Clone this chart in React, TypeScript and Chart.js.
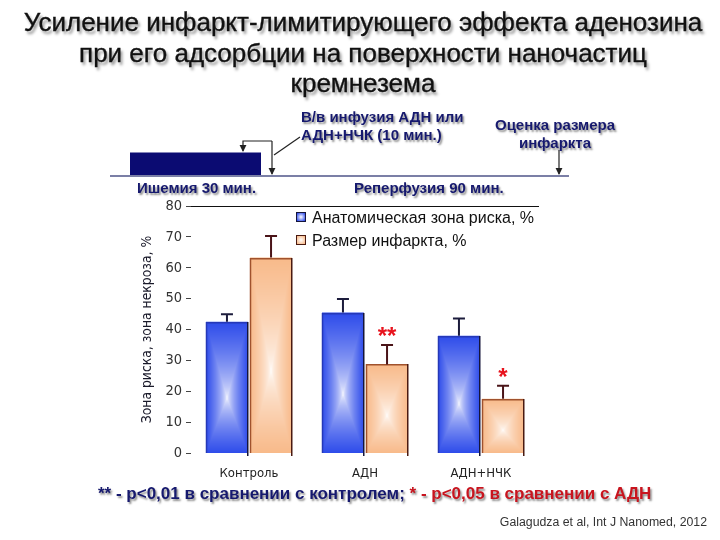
import React, { useEffect, useRef } from "react";
import { Chart, registerables } from "chart.js";

Chart.register(...registerables);

// ---- data ----
const categories = ["Контроль", "АДН", "АДН+НЧК"];
const seriesNames = ["Анатомическая зона риска, %", "Размер инфаркта, %"];
const riskValues = [42.5, 45.5, 38.0];
const riskErrors = [2.4, 4.4, 5.6];
const infarctValues = [63.3, 28.7, 17.6];
const infarctErrors = [7.0, 6.3, 4.2];
const infarctMarks = ["", "**", "*"];
const yMin = 0;
const yMax = 80;
const yStep = 10;
const yTitle = "Зона риска, зона некроза, %";

const NARROW = "'Liberation Sans Narrow', 'Arial Narrow', 'DejaVu Sans Condensed', sans-serif";
const ARIAL = "'Liberation Sans', Arial, sans-serif";

const barStyles = [
  { edge: [46, 76, 234], top: "#2538b8", right: "#15153a", err: "#1c1c3c" },
  { edge: [248, 186, 138], top: "#a0522d", right: "#4a1a10", err: "#4a1418" },
];
const errorSets = [riskErrors, infarctErrors];
const markSets = [["", "", ""], infarctMarks];

const decorPlugin = {
  id: "decor",
  afterDatasetsDraw(chart: any) {
    const ctx = chart.ctx as CanvasRenderingContext2D;
    const yScale = chart.scales.y;
    chart.data.datasets.forEach((ds: any, di: number) => {
      const meta = chart.getDatasetMeta(di);
      const st = barStyles[di];
      meta.data.forEach((bar: any, i: number) => {
        const p = bar.getProps(["x", "y", "base", "width"], true);
        const l = Math.round(p.x - p.width / 2);
        const r = Math.round(p.x + p.width / 2);
        const t = Math.round(p.y);
        const b = Math.round(p.base);
        const w = r - l;
        const h = b - t;
        if (w > 0 && h > 0) {
          const img = ctx.createImageData(w, h);
          const cy = h * 0.58;
          const hw = w / 2;
          for (let py = 0; py < h; py++) {
            const yy = py + 0.5;
            const dy = yy < cy ? (cy - yy) / cy : (yy - cy) / (h - cy);
            for (let px = 0; px < w; px++) {
              const dx = Math.abs(px + 0.5 - hw) / hw;
              const d = Math.min(1, Math.max(dx, dy));
              const s = Math.pow(d, 0.6);
              const k = (py * w + px) * 4;
              img.data[k] = Math.round(255 + (st.edge[0] - 255) * s);
              img.data[k + 1] = Math.round(255 + (st.edge[1] - 255) * s);
              img.data[k + 2] = Math.round(255 + (st.edge[2] - 255) * s);
              img.data[k + 3] = 255;
            }
          }
          ctx.putImageData(img, l, t);
          ctx.save();
          ctx.lineWidth = 1.5;
          ctx.strokeStyle = st.top;
          ctx.beginPath();
          ctx.moveTo(l + 0.5, b);
          ctx.lineTo(l + 0.5, t + 0.75);
          ctx.lineTo(r, t + 0.75);
          ctx.stroke();
          ctx.strokeStyle = st.right;
          ctx.beginPath();
          ctx.moveTo(r - 0.25, t);
          ctx.lineTo(r - 0.25, b + 3);
          ctx.stroke();
          ctx.restore();
        }
        // error bar (upper only)
        const v = ds.data[i];
        const errTop = yScale.getPixelForValue(v + errorSets[di][i]);
        ctx.save();
        ctx.strokeStyle = st.err;
        ctx.lineWidth = 2;
        ctx.beginPath();
        ctx.moveTo(p.x, p.y);
        ctx.lineTo(p.x, errTop);
        ctx.moveTo(p.x - 6, errTop);
        ctx.lineTo(p.x + 6, errTop);
        ctx.stroke();
        const mark = markSets[di][i];
        if (mark) {
          ctx.fillStyle = "#e8141e";
          ctx.font = "bold 24px " + ARIAL;
          ctx.textAlign = "center";
          ctx.textBaseline = "alphabetic";
          ctx.fillText(mark, p.x, errTop - 0.5);
        }
        ctx.restore();
      });
    });
  },
};

const legendSwatch = (di: number): React.CSSProperties => {
  const e = barStyles[di].edge;
  const c = `rgb(${e[0]},${e[1]},${e[2]})`;
  return {
    position: "absolute",
    left: 0,
    top: 6,
    width: 8,
    height: 8,
    border: `1px solid ${barStyles[di].right}`,
    background: `radial-gradient(circle, #ffffff 0%, ${c} 90%)`,
  };
};

const shadow = "1.5px 2px 2px rgba(0,0,0,0.45)";
const navy = "#16196e";

export default function App() {
  const canvasRef = useRef<HTMLCanvasElement | null>(null);

  useEffect(() => {
    const canvas = canvasRef.current;
    if (!canvas) return;
    const chart = new Chart(canvas, {
      type: "bar",
      data: {
        labels: categories,
        datasets: [
          {
            label: seriesNames[0],
            data: riskValues,
            backgroundColor: "rgb(46,76,234)",
            borderWidth: 0,
          },
          {
            label: seriesNames[1],
            data: infarctValues,
            backgroundColor: "rgb(248,186,138)",
            borderWidth: 0,
          },
        ],
      },
      options: {
        responsive: false,
        animation: false,
        events: [],
        layout: { padding: { left: 139, right: 181, top: 206, bottom: 57 } },
        datasets: { bar: { categoryPercentage: 0.76, barPercentage: 0.95 } },
        plugins: {
          legend: { display: false },
          tooltip: { enabled: false },
          title: { display: false },
        },
        scales: {
          x: {
            grid: { display: false, drawTicks: false },
            border: { display: false },
            ticks: {
              color: "#222",
              font: { family: NARROW, size: 13 },
              padding: 13,
              maxRotation: 0,
            },
            afterFit(s: any) {
              s.height = 30;
            },
          },
          y: {
            min: yMin,
            max: yMax,
            ticks: {
              stepSize: yStep,
              color: "#333",
              font: { family: NARROW, size: 14.5 },
              padding: 4,
            },
            grid: {
              color: (c: any) => (c.tick && c.tick.value === yMax ? "#111" : "rgba(0,0,0,0)"),
              tickColor: "#444",
              tickLength: 5,
              lineWidth: 1,
            },
            border: { display: false },
            title: {
              display: true,
              text: yTitle,
              color: "#1a1a2a",
              font: { family: NARROW, size: 13.8 },
              padding: { top: 0, bottom: 0 },
            },
            afterFit(s: any) {
              s.width = 52;
            },
          },
        },
      },
      plugins: [decorPlugin],
    } as any);
    return () => chart.destroy();
  }, []);

  const protoText: React.CSSProperties = {
    position: "absolute",
    font: `bold 15px ${ARIAL}`,
    color: navy,
    textShadow: shadow,
    whiteSpace: "nowrap",
    lineHeight: "18px",
  };

  return (
    <div
      style={{
        position: "absolute",
        left: 0,
        top: 0,
        width: 720,
        height: 540,
        background: "#ffffff",
        overflow: "hidden",
      }}
    >
      <canvas
        ref={canvasRef}
        width={720}
        height={540}
        style={{ position: "absolute", left: 0, top: 0, width: 720, height: 540 }}
      />
      <div
        style={{
          position: "absolute",
          left: 0,
          top: 7,
          width: 726,
          textAlign: "center",
          font: `26px ${ARIAL}`,
          lineHeight: "30.5px",
          color: "#111",
          textShadow: "2px 3px 3px rgba(0,0,0,0.45)",
          WebkitTextStroke: "0.35px #111",
          whiteSpace: "nowrap",
        }}
      >
        Усиление инфаркт-лимитирующего эффекта аденозина
        <br />
        при его адсорбции на поверхности наночастиц
        <br />
        кремнезема
      </div>

      <svg
        width={720}
        height={540}
        style={{ position: "absolute", left: 0, top: 0 }}
      >
        <defs>
          <marker id="ah" viewBox="0 0 8 8" refX="7" refY="4" markerWidth="6" markerHeight="6" orient="auto">
            <path d="M0,0 L8,4 L0,8 z" fill="#222" />
          </marker>
        </defs>
        <line x1={110} y1={176} x2={569} y2={176} stroke="#7b7fa6" strokeWidth={2} />
        <rect x={130} y={152.5} width={131} height={22.5} fill="#0b0b72" />
        <polyline
          points="272,141 243,141 243,151"
          fill="none"
          stroke="#222"
          strokeWidth={1.2}
          markerEnd="url(#ah)"
        />
        <line x1={272} y1={141} x2={272} y2={174} stroke="#222" strokeWidth={1.2} markerEnd="url(#ah)" />
        <line x1={274} y1={155} x2={300} y2={137} stroke="#222" strokeWidth={1.2} />
        <line x1={559} y1={150} x2={559} y2={174} stroke="#222" strokeWidth={1.2} markerEnd="url(#ah)" />
      </svg>

      <div style={{ ...protoText, left: 301, top: 108 }}>
        В/в инфузия АДН или
        <br />
        АДН+НЧК (10 мин.)
      </div>
      <div style={{ ...protoText, left: 490, top: 116, width: 130, textAlign: "center" }}>
        Оценка размера
        <br />
        инфаркта
      </div>
      <div style={{ ...protoText, left: 137, top: 179 }}>Ишемия 30 мин.</div>
      <div style={{ ...protoText, left: 354, top: 179 }}>Реперфузия 90 мин.</div>

      <div style={{ position: "absolute", left: 296, top: 206, font: `16px ${ARIAL}`, color: "#111", lineHeight: "23px" }}>
        {seriesNames.map((n, i) => (
          <div key={n} style={{ position: "relative", paddingLeft: 16, height: 23, whiteSpace: "nowrap" }}>
            <span style={legendSwatch(i)} />
            {n}
          </div>
        ))}
      </div>

      <div
        style={{
          position: "absolute",
          left: 98,
          top: 484,
          font: `bold 17px ${ARIAL}`,
          lineHeight: "20px",
          whiteSpace: "nowrap",
          textShadow: shadow,
        }}
      >
        <span style={{ color: navy }}>** - p&lt;0,01 в сравнении с контролем; </span>
        <span style={{ color: "#c8141e" }}>* - p&lt;0,05 в сравнении с АДН</span>
      </div>

      <div
        style={{
          position: "absolute",
          right: 13,
          top: 515,
          font: `12.3px ${ARIAL}`,
          color: "#333",
          whiteSpace: "nowrap",
        }}
      >
        Galagudza et al, Int J Nanomed, 2012
      </div>
    </div>
  );
}
